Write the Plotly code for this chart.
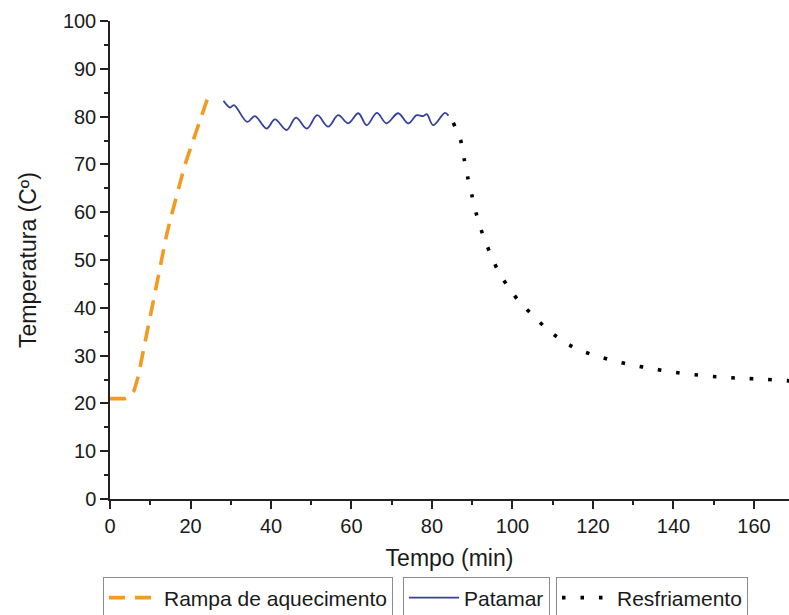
import plotly.graph_objects as go

# ---- data ----
ramp_t = [0, 3.7, 5, 6, 7, 8, 9, 10, 11, 12, 13, 14, 15, 16, 17, 18, 19, 20, 21, 22, 23, 24, 24.8]
ramp_T = [21, 21, 21.5, 22.7, 25.6, 29.9, 34.2, 38.5, 42.8, 47.1, 51.2, 55, 58.5, 61.8, 65, 68, 70.9,
          73.4, 75.9, 78.5, 81, 83.5, 85.2]

patamar_t = [28.2, 29.8, 30.8, 34.1, 36.0, 38.9, 41.0, 43.9, 46.2, 48.9, 51.5, 54.2, 56.7, 59.2,
             61.7, 63.8, 66.3, 68.7, 71.6, 74.1, 76.2, 77.8, 78.7, 80.3, 83.2, 84.1]
patamar_T = [83.3, 81.9, 82.4, 78.9, 80.1, 77.5, 79.4, 77.2, 79.8, 77.5, 80.3, 77.9, 80.3, 78.6,
             80.7, 78.2, 80.8, 78.6, 80.7, 78.6, 80.3, 80.1, 80.5, 78.2, 80.8, 80.2]

resf_t = [85.3, 87.1, 88.0, 88.9, 90.0, 91.1, 92.5, 94.2, 96.1, 98.5, 101.2, 104.6, 108.0, 111.7,
          115.9, 120.6, 125.2, 129.9, 134.6, 139.3, 144.1, 148.9, 153.6, 158.4, 163.2, 167.7, 169]
resf_T = [78.7, 75.1, 71.1, 67.2, 63.2, 59.4, 55.6, 51.9, 48.3, 44.9, 41.8, 38.8, 36.0, 33.5,
          31.4, 30.0, 28.9, 28.0, 27.3, 26.6, 26.1, 25.7, 25.4, 25.2, 25.0, 24.8, 24.7]

names = ["Rampa de aquecimento", "Patamar", "Resfriamento"]
x_ticks = [0, 20, 40, 60, 80, 100, 120, 140, 160]
y_ticks = [0, 10, 20, 30, 40, 50, 60, 70, 80, 90, 100]

FONT = "Liberation Sans, Arial, sans-serif"

fig = go.Figure()
fig.add_trace(go.Scatter(x=ramp_t, y=ramp_T, mode="lines", name=names[0],
                         line=dict(color="#F39A21", width=3.6, dash="16px,10px"),
                         legend="legend", showlegend=True))
fig.add_trace(go.Scatter(x=patamar_t, y=patamar_T, mode="lines", name=names[1],
                         line=dict(color="#34409C", width=1.8, shape="spline", smoothing=1.0),
                         legend="legend2", showlegend=True))
fig.add_trace(go.Scatter(x=resf_t, y=resf_T, mode="lines", name=names[2],
                         line=dict(color="#000000", width=3.6, dash="3.5px,15px", shape="spline",
                                   smoothing=0.6),
                         legend="legend3", showlegend=True))

leg_y = 1 - 598 / 615
leg_common = dict(orientation="h", xanchor="left", yanchor="middle",
                  xref="container", yref="container",
                  bgcolor="rgba(255,255,255,1)", bordercolor="#8c8c8c", borderwidth=1,
                  font=dict(family=FONT, size=21, color="#1a1a1a"), itemwidth=50,
                  tracegroupgap=0)

fig.update_layout(
    width=789, height=615,
    showlegend=True,
    margin=dict(l=110, r=0, t=21, b=116, autoexpand=False),
    paper_bgcolor="white", plot_bgcolor="white",
    font=dict(family=FONT, color="#1a1a1a"),
    legend=dict(x=103 / 789, y=leg_y, **leg_common),
    legend2=dict(x=403 / 789, y=leg_y, **leg_common),
    legend3=dict(x=556 / 789, y=leg_y, **leg_common),
    xaxis=dict(range=[0, 168.7], tickvals=x_ticks, ticks="outside", ticklen=8, tickwidth=1.5,
               tickcolor="#222", showline=True, linecolor="#222", linewidth=1.5,
               showgrid=False, zeroline=False,
               tickfont=dict(family=FONT, size=20, color="#1a1a1a"),
               minor=dict(dtick=10, ticks="outside", ticklen=4, tickwidth=1.5, tickcolor="#222"),
               title=dict(text="Tempo (min)", font=dict(family=FONT, size=23, color="#1a1a1a"),
                          standoff=14)),
    yaxis=dict(range=[0, 100], tickvals=y_ticks, ticks="outside", ticklen=8, tickwidth=1.5,
               tickcolor="#222", showline=True, linecolor="#222", linewidth=1.5,
               showgrid=False, zeroline=False,
               tickfont=dict(family=FONT, size=20, color="#1a1a1a"),
               minor=dict(dtick=5, ticks="outside", ticklen=4, tickwidth=1.5, tickcolor="#222"),
               title=dict(text="Temperatura (Cº)", font=dict(family=FONT, size=23, color="#1a1a1a"),
                          standoff=20)),
)

fig.write_html("out.html")
